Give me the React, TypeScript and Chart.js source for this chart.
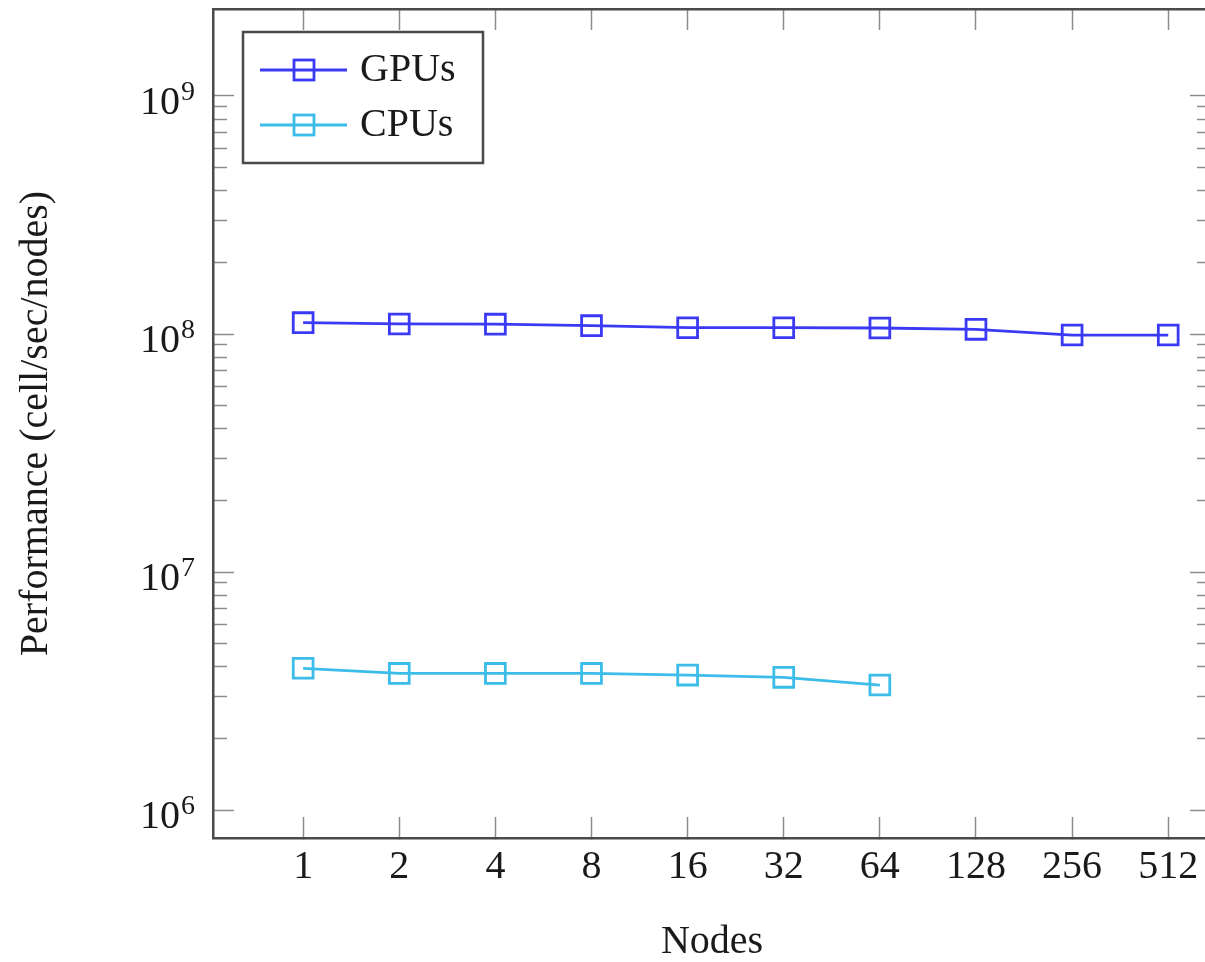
import React, { useEffect, useRef } from 'react';
import { Chart, registerables } from 'chart.js';

Chart.register(...registerables);

// ---- data ----
const nodes = [1, 2, 4, 8, 16, 32, 64, 128, 256, 512];
const xTickLabels = ['1', '2', '4', '8', '16', '32', '64', '128', '256', '512'];
const gpuPerf = [1.116e8, 1.102e8, 1.1e8, 1.084e8, 1.063e8, 1.063e8, 1.06e8, 1.046e8, 0.99e8, 0.99e8];
const cpuNodes = [1, 2, 4, 8, 16, 32, 64];
const cpuPerf = [3.94e6, 3.75e6, 3.75e6, 3.75e6, 3.69e6, 3.61e6, 3.35e6];
const yDecades = [6, 7, 8, 9];
const yTickBase = '10';
const yTickExponents = ['6', '7', '8', '9'];
const seriesLabels = ['GPUs', 'CPUs'];
const seriesColors = ['rgb(58,58,245)', 'rgb(60,188,232)'];

const FONT = "'Liberation Serif', 'DejaVu Serif', serif";
const TEXT = '#1a1a1a';
const BORDER = '#4a4a4a';
const TICK = '#8c8c8c';

const X_MIN = 0.522;
const X_MAX = 697;
const Y_MIN = 7.63e5;
const Y_MAX = 2.32e9;

function buildYTicks() {
  const t: { value: number; major: boolean }[] = [];
  for (let d = 0; d < yDecades.length - 1; d++) {
    for (let m = 1; m <= 9; m++) {
      t.push({ value: m * Math.pow(10, yDecades[d]), major: m === 1 });
    }
  }
  t.push({ value: Math.pow(10, yDecades[yDecades.length - 1]), major: true });
  return t;
}

const tickColorFn = (showMajor: boolean) => (c: any) => {
  const major = !!(c.tick && c.tick.major);
  return major === showMajor ? TICK : 'rgba(0,0,0,0)';
};

// y tick labels with real superscript exponents, positioned by the y scale
const powerLabelPlugin = {
  id: 'powerLabels',
  afterDraw(chart: any) {
    const ctx = chart.ctx;
    const scale = chart.scales.y;
    const rightEdge = scale.right - 18;
    ctx.save();
    ctx.fillStyle = TEXT;
    ctx.textBaseline = 'alphabetic';
    yDecades.forEach((d, i) => {
      const py = scale.getPixelForValue(Math.pow(10, d));
      ctx.font = `28px ${FONT}`;
      ctx.textAlign = 'right';
      const expW = ctx.measureText(yTickExponents[i]).width;
      ctx.fillText(yTickExponents[i], rightEdge, py + 4);
      ctx.font = `40px ${FONT}`;
      ctx.fillText(yTickBase, rightEdge - expW - 1, py + 18);
    });
    ctx.restore();
  },
};

const legendPlugin = {
  id: 'boxLegend',
  afterDraw(chart: any) {
    const ctx = chart.ctx;
    ctx.save();
    const bx = 235, by = 24, bw = 240, bh = 131;
    ctx.fillStyle = '#ffffff';
    ctx.fillRect(bx, by, bw, bh);
    ctx.strokeStyle = BORDER;
    ctx.lineWidth = 2.5;
    ctx.strokeRect(bx, by, bw, bh);
    chart.data.datasets.forEach((ds: any, i: number) => {
      const y = 62 + i * 55;
      ctx.strokeStyle = ds.borderColor;
      ctx.lineWidth = 2.8;
      ctx.beginPath();
      ctx.moveTo(252, y);
      ctx.lineTo(339, y);
      ctx.stroke();
      ctx.strokeRect(296 - 10, y - 10, 20, 20);
      ctx.fillStyle = TEXT;
      ctx.font = `40px ${FONT}`;
      ctx.textBaseline = 'middle';
      ctx.textAlign = 'left';
      ctx.fillText(ds.label, 352, y);
    });
    ctx.restore();
  },
};

export default function App() {
  const ref = useRef<HTMLCanvasElement>(null);

  useEffect(() => {
    if (!ref.current) return;
    const xTicks = () => nodes.map((v) => ({ value: v, major: false }));
    const tickFont = { family: FONT, size: 40, lineHeight: 1 };
    const mkDataset = (label: string, color: string, xs: number[], ys: number[]) => ({
      label,
      data: xs.map((n, i) => ({ x: n, y: ys[i] })),
      borderColor: color,
      backgroundColor: 'rgba(0,0,0,0)',
      borderWidth: 2.8,
      pointStyle: 'rect',
      pointRadius: 14,
      pointBorderWidth: 2.8,
      pointBorderColor: color,
      pointBackgroundColor: 'rgba(0,0,0,0)',
      tension: 0,
    });

    const chart = new Chart(ref.current, {
      type: 'line',
      data: {
        datasets: [
          mkDataset(seriesLabels[0], seriesColors[0], nodes, gpuPerf),
          mkDataset(seriesLabels[1], seriesColors[1], cpuNodes, cpuPerf),
        ],
      },
      options: {
        animation: false,
        responsive: false,
        devicePixelRatio: 1,
        layout: { autoPadding: false, padding: { top: 1, right: 12, bottom: 0, left: 0 } },
        plugins: {
          legend: { display: false },
          tooltip: { enabled: false },
          title: { display: false },
        },
        scales: {
          x: {
            type: 'logarithmic',
            position: 'bottom',
            min: X_MIN,
            max: X_MAX,
            afterBuildTicks: (s: any) => { s.ticks = xTicks(); },
            afterFit: (s: any) => { s.height = 124; s.paddingLeft = 0; s.paddingRight = 0; },
            ticks: {
              autoSkip: false,
              maxRotation: 0,
              minRotation: 0,
              padding: 30,
              color: TEXT,
              font: tickFont,
              callback: (v: any) => xTickLabels[nodes.indexOf(Number(v))] ?? '',
            },
            grid: { drawOnChartArea: false, tickLength: -21, tickColor: TICK, tickWidth: 1.5 },
            border: { display: true, color: BORDER, width: 2.5 },
            title: { display: true, text: 'Nodes', color: TEXT, font: tickFont, padding: 0 },
          },
          x2: {
            type: 'logarithmic',
            position: 'top',
            min: X_MIN,
            max: X_MAX,
            afterBuildTicks: (s: any) => { s.ticks = xTicks(); },
            afterFit: (s: any) => { s.height = 0; s.paddingLeft = 0; s.paddingRight = 0; },
            ticks: { display: false, autoSkip: false },
            grid: { drawOnChartArea: false, tickLength: -21, tickColor: TICK, tickWidth: 1.5 },
            border: { display: true, color: BORDER, width: 2.5 },
          },
          y: {
            type: 'logarithmic',
            position: 'left',
            weight: 10,
            min: Y_MIN,
            max: Y_MAX,
            afterBuildTicks: (s: any) => { s.ticks = buildYTicks(); },
            afterFit: (s: any) => { s.width = 205; s.paddingTop = 0; s.paddingBottom = 0; },
            ticks: { display: false, autoSkip: false },
            grid: { drawOnChartArea: false, tickLength: -21, tickColor: tickColorFn(true), tickWidth: 1.5 },
            border: { display: true, color: BORDER, width: 2.5 },
            title: {
              display: true,
              text: 'Performance (cell/sec/nodes)',
              color: TEXT,
              font: tickFont,
              padding: { top: 8, bottom: 0 },
            },
          },
          yMinor: {
            type: 'logarithmic',
            position: 'left',
            weight: 0,
            min: Y_MIN,
            max: Y_MAX,
            afterBuildTicks: (s: any) => { s.ticks = buildYTicks(); },
            afterFit: (s: any) => { s.width = 0; s.paddingTop = 0; s.paddingBottom = 0; },
            ticks: { display: false, autoSkip: false },
            grid: { drawOnChartArea: false, tickLength: -14, tickColor: tickColorFn(false), tickWidth: 1.5 },
            border: { display: false },
          },
          y2: {
            type: 'logarithmic',
            position: 'right',
            weight: 0,
            min: Y_MIN,
            max: Y_MAX,
            afterBuildTicks: (s: any) => { s.ticks = buildYTicks(); },
            afterFit: (s: any) => { s.width = 0; s.paddingTop = 0; s.paddingBottom = 0; },
            ticks: { display: false, autoSkip: false },
            grid: { drawOnChartArea: false, tickLength: -21, tickColor: tickColorFn(true), tickWidth: 1.5 },
            border: { display: true, color: BORDER, width: 2.5 },
          },
          y2Minor: {
            type: 'logarithmic',
            position: 'right',
            weight: 1,
            min: Y_MIN,
            max: Y_MAX,
            afterBuildTicks: (s: any) => { s.ticks = buildYTicks(); },
            afterFit: (s: any) => { s.width = 0; s.paddingTop = 0; s.paddingBottom = 0; },
            ticks: { display: false, autoSkip: false },
            grid: { drawOnChartArea: false, tickLength: -14, tickColor: tickColorFn(false), tickWidth: 1.5 },
            border: { display: false },
          },
        },
      } as any,
      plugins: [powerLabelPlugin, legendPlugin],
    });
    return () => chart.destroy();
  }, []);

  return (
    <div
      style={{
        position: 'fixed',
        left: 8,
        top: 8,
        width: 1197,
        height: 954,
        overflow: 'hidden',
        background: '#ffffff',
      }}
    >
      <canvas ref={ref} width={1215} height={954} style={{ display: 'block', width: 1215, height: 954 }} />
    </div>
  );
}
